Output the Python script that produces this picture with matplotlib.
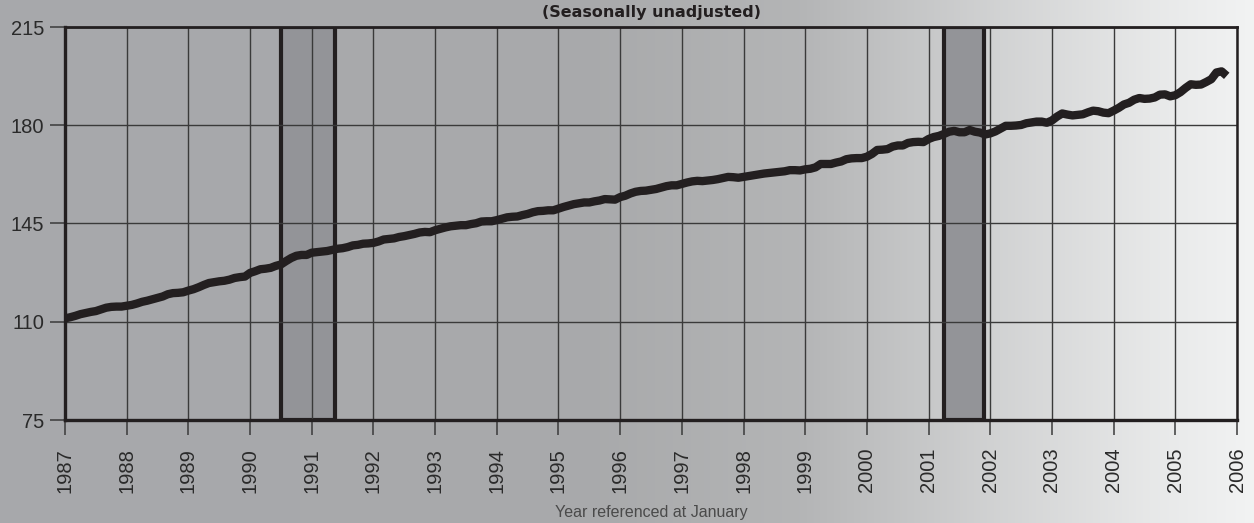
import numpy as np
import matplotlib
matplotlib.use("Agg")
import matplotlib.pyplot as plt

# CPI-U, not seasonally adjusted, monthly values, Jan 1987 .. Nov 2005
cpi_by_year = {
    1987: [111.2, 111.6, 112.1, 112.7, 113.1, 113.5, 113.8, 114.4, 115.0, 115.3, 115.4, 115.4],
    1988: [115.7, 116.0, 116.5, 117.1, 117.5, 118.0, 118.5, 119.0, 119.8, 120.2, 120.3, 120.5],
    1989: [121.1, 121.6, 122.3, 123.1, 123.8, 124.1, 124.4, 124.6, 125.0, 125.6, 125.9, 126.1],
    1990: [127.4, 128.0, 128.7, 128.9, 129.2, 129.9, 130.4, 131.6, 132.7, 133.5, 133.8, 133.8],
    1991: [134.6, 134.8, 135.0, 135.2, 135.6, 136.0, 136.2, 136.6, 137.2, 137.4, 137.8, 137.9],
    1992: [138.1, 138.6, 139.3, 139.5, 139.7, 140.2, 140.5, 140.9, 141.3, 141.8, 142.0, 141.9],
    1993: [142.6, 143.1, 143.6, 144.0, 144.2, 144.4, 144.4, 144.8, 145.1, 145.7, 145.8, 145.8],
    1994: [146.2, 146.7, 147.2, 147.4, 147.5, 148.0, 148.4, 149.0, 149.4, 149.5, 149.7, 149.7],
    1995: [150.3, 150.9, 151.4, 151.9, 152.2, 152.5, 152.5, 152.9, 153.2, 153.7, 153.6, 153.5],
    1996: [154.4, 154.9, 155.7, 156.3, 156.6, 156.7, 157.0, 157.3, 157.8, 158.3, 158.6, 158.6],
    1997: [159.1, 159.6, 160.0, 160.2, 160.1, 160.3, 160.5, 160.8, 161.2, 161.6, 161.5, 161.3],
    1998: [161.6, 161.9, 162.2, 162.5, 162.8, 163.0, 163.2, 163.4, 163.6, 164.0, 164.0, 163.9],
    1999: [164.3, 164.5, 165.0, 166.2, 166.2, 166.2, 166.7, 167.1, 167.9, 168.2, 168.3, 168.3],
    2000: [168.8, 169.8, 171.2, 171.3, 171.5, 172.4, 172.8, 172.8, 173.7, 174.0, 174.1, 174.0],
    2001: [175.1, 175.8, 176.2, 176.9, 177.7, 178.0, 177.5, 177.5, 178.3, 177.7, 177.4, 176.7],
    2002: [177.1, 177.8, 178.8, 179.8, 179.8, 179.9, 180.1, 180.7, 181.0, 181.3, 181.3, 180.9],
    2003: [181.7, 183.1, 184.2, 183.8, 183.5, 183.7, 183.9, 184.6, 185.2, 185.0, 184.5, 184.3],
    2004: [185.2, 186.2, 187.4, 188.0, 189.1, 189.7, 189.4, 189.5, 189.9, 190.9, 191.0, 190.3],
    2005: [190.7, 191.8, 193.3, 194.6, 194.4, 194.5, 195.4, 196.4, 198.8, 199.2, 197.6],
}

recession_start = [1990.5, 2001.25]
recession_end = [1991.375, 2001.9]

y_ticks = [75, 110, 145, 180, 215]
x_years = list(range(1987, 2007))

title = "(Seasonally unadjusted)"
x_label = "Year referenced at January"

# build monthly series
dates = []
values = []
for yr, months in cpi_by_year.items():
    for m, v in enumerate(months):
        dates.append(yr + m / 12.0)
        values.append(v)

plt.rcParams['font.family'] = ['Liberation Sans', 'DejaVu Sans']
ink = '#231f20'

fig = plt.figure(figsize=(12.54, 5.23), dpi=100)

# background gradient (dark gray left -> near white right)
bg = fig.add_axes([0, 0, 1, 1], zorder=-10)
px = np.arange(1254)
shade = np.interp(px, [0, 600, 800, 1000, 1150, 1254], [168, 170, 181, 211, 232, 243])
tint = np.interp(px, [0, 1254], [3, 0])
rgb = np.stack([shade - 1, shade, shade + tint], axis=-1).clip(0, 255) / 255.0
bg.imshow(rgb[np.newaxis, :, :], aspect='auto', extent=[0, 1, 0, 1])
bg.set_axis_off()

ax = fig.add_axes([65 / 1254, 1 - 420 / 523, 1172 / 1254, 393 / 523])
ax.patch.set_alpha(0)

for s, e in zip(recession_start, recession_end):
    ax.axvspan(s, e, facecolor='#939498', edgecolor=ink, linewidth=3, zorder=1)

ax.set_xlim(1987, 2006)
ax.set_ylim(75, 215)
ax.set_xticks(x_years)
ax.set_xticklabels([str(y) for y in x_years], rotation=90, fontsize=14.5, color='#2a2a2a')
ax.set_yticks(y_ticks)
ax.set_yticklabels([str(y) for y in y_ticks], fontsize=14.5, color='#2a2a2a')
ax.tick_params(axis='both', length=11, width=1.1, color='#3a3a3a')
ax.tick_params(axis='x', pad=9)
ax.tick_params(axis='y', pad=4)

ax.grid(True, color='#3a3a3a', linewidth=1.0, zorder=2)
ax.set_axisbelow(False)

ax.plot(dates, values, color=ink, linewidth=6, solid_joinstyle='round',
        solid_capstyle='butt', zorder=4)

for side, w in [('left', 2.4), ('bottom', 2.4), ('top', 2.0), ('right', 1.8)]:
    ax.spines[side].set_linewidth(w)
    ax.spines[side].set_color(ink)
    ax.spines[side].set_zorder(5)

fig.text(651 / 1254, 1 - 13 / 523, title, ha='center', va='center',
         fontsize=11.5, fontweight='bold', color=ink, family=['DejaVu Sans'])
fig.text(651 / 1254, 1 - 512 / 523, x_label, ha='center', va='center',
         fontsize=11.5, color='#4a4a4a')

fig.savefig('out.png', dpi=100)
